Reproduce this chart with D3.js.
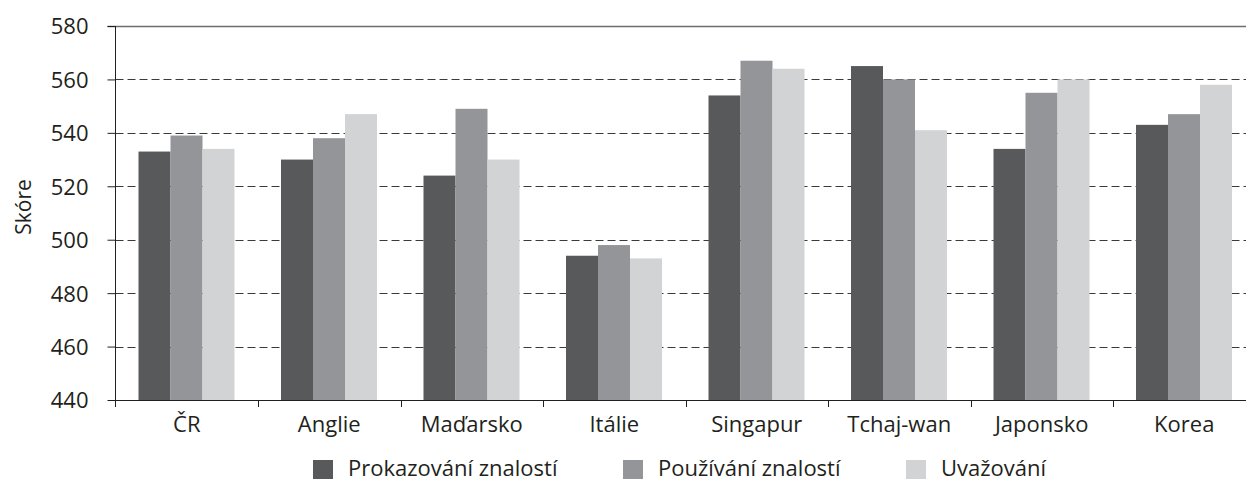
<!DOCTYPE html>
<html>
<head>
<meta charset="utf-8">
<script src="https://cdn.jsdelivr.net/npm/d3@7"></script>
<style>
  body { margin: 0; background: #fff; }
  text { font-family: "Open Sans", sans-serif; fill: #231f20; }
</style>
</head>
<body>
<script>
//-----------------Data----------------

const countries = ["ČR", "Anglie", "Maďarsko", "Itálie", "Singapur", "Tchaj-wan", "Japonsko", "Korea"];
const seriesNames = ["Prokazování znalostí", "Používání znalostí", "Uvažování"];
const prokazovani = [533, 530, 524, 494, 554, 565, 534, 543];
const pouzivani = [539, 538, 549, 498, 567, 560, 555, 547];
const uvazovani = [534, 547, 530, 493, 564, 541, 560, 558];
const yTicks = [440, 460, 480, 500, 520, 540, 560, 580];
const colors = ["#58595b", "#939598", "#d1d3d4"];

const series = [prokazovani, pouzivani, uvazovani];

//-----------------Svg----------------

const width = 1246;
const height = 482;
const plotLeft = 115.5;
const plotTop = 26;
const plotBottom = 400;
const step = 142.5;

const svg = d3.select("body").append("svg").attr("width", width).attr("height", height);

//---------------Scales---------------------

const x0 = d3.scaleBand().domain(countries).range([plotLeft, plotLeft + step * countries.length]).padding(0);
const x1 = d3.scaleBand().domain(d3.range(series.length)).range([23, x0.bandwidth() - 23.5]).padding(0);
const y = d3.scaleLinear().domain([440, 580]).range([plotBottom, plotTop]);

//-------------Grid----------------

svg
  .append("g")
  .selectAll("line")
  .data(yTicks.filter((d) => d > 440 && d < 580))
  .enter()
  .append("line")
  .attr("x1", plotLeft)
  .attr("x2", width)
  .attr("y1", (d) => Math.round(y(d)) + 0.5)
  .attr("y2", (d) => Math.round(y(d)) + 0.5)
  .style("stroke", "#3a3a3a")
  .style("stroke-width", 1)
  .style("stroke-dasharray", "8,4");

svg
  .append("line")
  .attr("x1", plotLeft - 8)
  .attr("x2", width)
  .attr("y1", y(580) + 0.5)
  .attr("y2", y(580) + 0.5)
  .style("stroke", "#6d6e71")
  .style("stroke-width", 1.5);

//-------------Bars----------------

const groups = svg
  .append("g")
  .selectAll("g")
  .data(countries)
  .enter()
  .append("g")
  .attr("transform", (d) => "translate(" + x0(d) + ",0)");

groups
  .selectAll("rect")
  .data((d, i) => series.map((s, k) => ({ k: k, v: s[i] })))
  .enter()
  .append("rect")
  .attr("x", (d) => x1(d.k))
  .attr("width", x1.bandwidth())
  .attr("y", (d) => y(d.v))
  .attr("height", (d) => plotBottom - y(d.v))
  .style("fill", (d) => colors[d.k]);

//------------Axis----------------

const yAxis = d3.axisLeft(y).tickValues(yTicks).tickSize(8).tickPadding(19);
const yG = svg.append("g").attr("transform", "translate(" + plotLeft + ",0)").call(yAxis);
yG.select(".domain").style("stroke", "#231f20").attr("d", "M0," + plotTop + "V" + (plotBottom + 7));
yG.selectAll(".tick line").style("stroke", "#231f20");
yG.selectAll(".tick text").style("font-size", "22px").attr("dy", "0.36em");

const xAxis = d3.axisBottom(x0).tickSize(0).tickPadding(16);
const xG = svg.append("g").attr("transform", "translate(0," + plotBottom + ")").call(xAxis);
xG.select(".domain").style("stroke", "#231f20").attr("d", "M" + plotLeft + ",0.5H" + width);
xG.selectAll(".tick text").style("font-size", "22px");

// ticks between groups
svg
  .append("g")
  .selectAll("line")
  .data(countries.slice(1))
  .enter()
  .append("line")
  .attr("x1", (d) => Math.round(x0(d)) + 0.5)
  .attr("x2", (d) => Math.round(x0(d)) + 0.5)
  .attr("y1", plotBottom)
  .attr("y2", plotBottom + 7)
  .style("stroke", "#231f20");

svg
  .append("text")
  .text("Skóre")
  .attr("transform", "translate(31,207) rotate(-90)")
  .style("text-anchor", "middle")
  .style("font-size", "21px");

//-----------Legend--------------

const legendX = [313, 623, 906];
const legend = svg.append("g");

legend
  .selectAll("rect")
  .data(seriesNames)
  .enter()
  .append("rect")
  .attr("x", (d, i) => legendX[i])
  .attr("y", 460)
  .attr("width", 20)
  .attr("height", 19)
  .style("fill", (d, i) => colors[i]);

legend
  .selectAll("text")
  .data(seriesNames)
  .enter()
  .append("text")
  .attr("x", (d, i) => legendX[i] + 35)
  .attr("y", 476)
  .text((d) => d)
  .style("font-size", "22px");
</script>
</body>
</html>
